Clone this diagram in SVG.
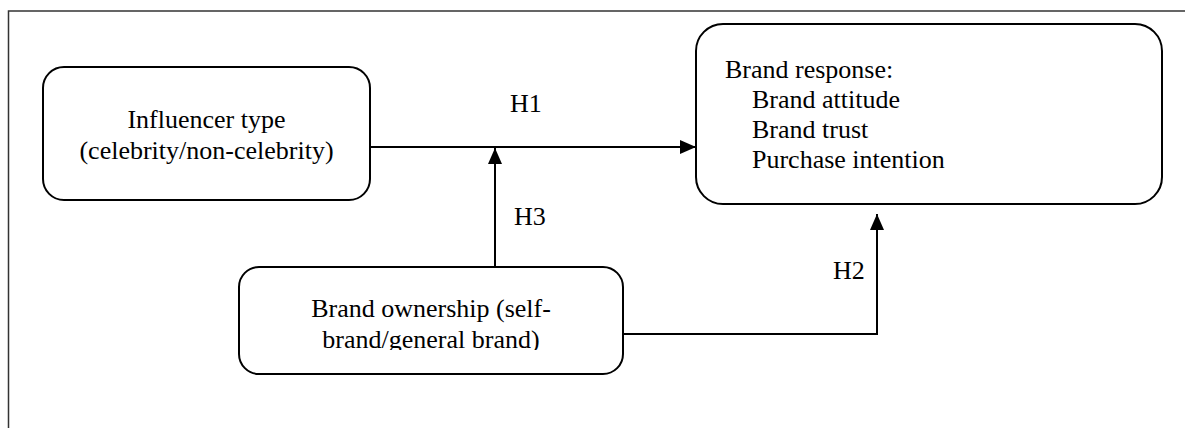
<svg xmlns="http://www.w3.org/2000/svg" width="1185" height="428" viewBox="0 0 1185 428">
<style>
.box{fill:#fff;stroke:#000;stroke-width:2}
.t{font-family:"Liberation Serif","Times New Roman",serif;font-size:26px;fill:#000}
.c{text-anchor:middle}
.conn{fill:none;stroke:#000;stroke-width:2}
</style>
<defs>
<marker id="arr" viewBox="0 0 16 14" refX="16" refY="7" markerWidth="16" markerHeight="14" markerUnits="userSpaceOnUse" orient="auto">
<path d="M0,0 L16,7 L0,14 Z" fill="#000"/>
</marker>
<clipPath id="clip2"><rect x="239" y="267" width="384" height="83"/></clipPath>
</defs>
<rect x="8.5" y="11" width="1200" height="430" fill="none" stroke="#333" stroke-width="1.5"/>
<g id="connectors">
<line class="conn" x1="370" y1="147" x2="696" y2="147" marker-end="url(#arr)"/>
<line class="conn" x1="495" y1="267" x2="495" y2="148" marker-end="url(#arr)"/>
<polyline class="conn" points="623,334 877,334 877,214" marker-end="url(#arr)"/>
<text class="t" x="510" y="112">H1</text>
<text class="t" x="514" y="225">H3</text>
<text class="t" x="833" y="279">H2</text>
</g>
<g id="influencer">
<rect class="box" x="43" y="67" width="327" height="133" rx="21"/>
<text class="t c" x="206.5" y="128">Influencer type</text>
<text class="t c" x="206.5" y="159">(celebrity/non-celebrity)</text>
</g>
<g id="ownership">
<rect class="box" x="239" y="267" width="384" height="107" rx="20"/>
<g clip-path="url(#clip2)">
<text class="t c" x="431" y="317">Brand ownership (self-</text>
<text class="t c" x="431" y="348">brand/general brand)</text>
</g>
</g>
<g id="response">
<rect class="box" x="696" y="24" width="466" height="180" rx="27"/>
<text class="t" x="725" y="78">Brand response:</text>
<text class="t" x="752" y="108">Brand attitude</text>
<text class="t" x="752" y="138">Brand trust</text>
<text class="t" x="752" y="168">Purchase intention</text>
</g>
</svg>
